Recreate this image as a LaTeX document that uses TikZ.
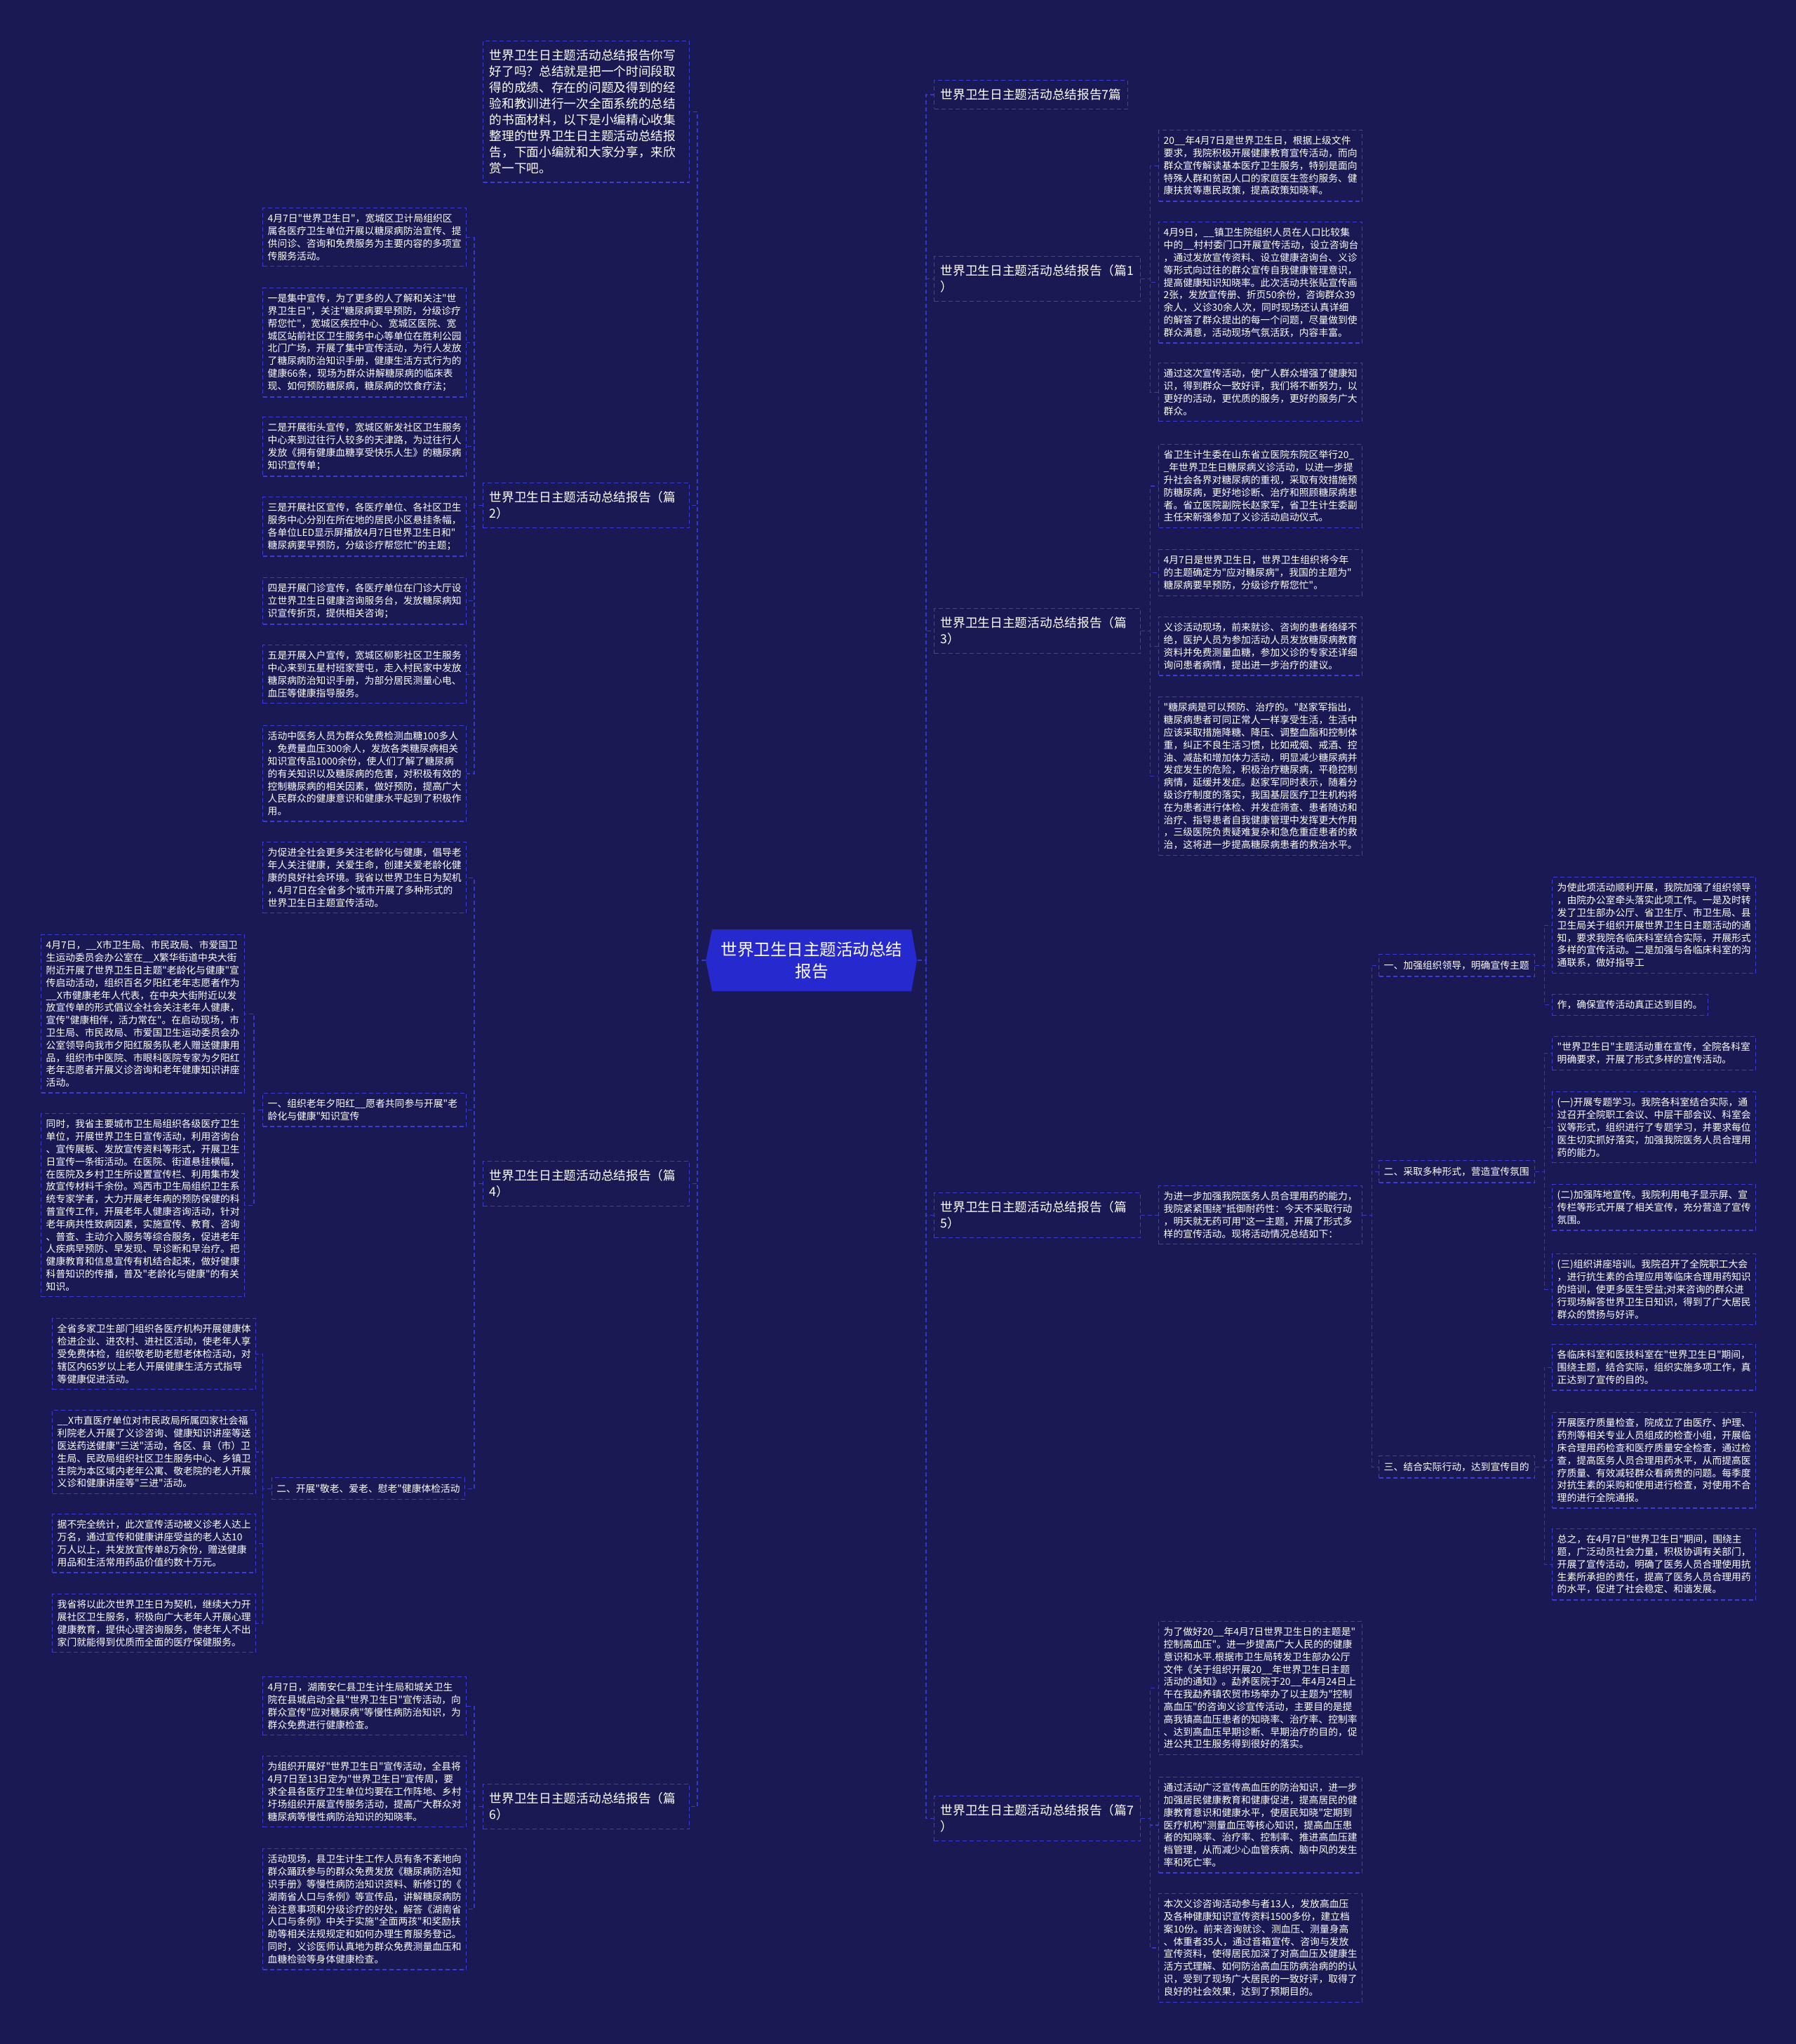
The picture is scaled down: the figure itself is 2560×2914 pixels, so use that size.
\documentclass[tikz,border=0pt]{standalone}
\usepackage{fontspec}
\setmainfont{Noto Sans CJK SC}[Ligatures=TeXOff]
\definecolor{bgc}{RGB}{26,25,84}
\definecolor{bcol}{RGB}{58,62,214}
\definecolor{lcol}{RGB}{52,56,200}
\definecolor{cfill}{RGB}{38,42,206}
\tikzset{
  conn/.style={draw=lcol, line width=0.6pt, dash pattern=on 3pt off 2pt},
  nbox/.style={draw=bcol, line width=0.7pt, dash pattern=on 3pt off 2pt, text=white, align=left, anchor=north west},
  leaf/.style={nbox, font=\fontsize{6.9pt}{8.9pt}\selectfont, text width=138pt, inner xsep=3.5pt, inner ysep=4.2pt},
  subb/.style={nbox, font=\fontsize{6.9pt}{8.9pt}\selectfont, inner xsep=3.5pt, inner ysep=4.5pt},
  branch/.style={nbox, font=\fontsize{8.85pt}{11.5pt}\selectfont, text width=138pt, inner xsep=4.5pt, inner ysep=6pt},
  branchn/.style={nbox, font=\fontsize{8.85pt}{11.5pt}\selectfont, inner xsep=4.5pt, inner ysep=6pt},
}
\begin{document}
\begin{tikzpicture}[x=0.5pt,y=-0.5pt]
\fill[bgc] (0,0) rectangle (2560,2914);
\useasboundingbox (0,0) rectangle (2560,2914);

% center
\fill[cfill] (1015,1325) -- (1299,1325) -- (1307,1369) -- (1299,1413) -- (1015,1413) -- (1006,1369) -- cycle;
\node[text=white, align=center, inner sep=0pt, minimum width=150.5pt, minimum height=44pt,
      font=\fontsize{11.75pt}{15.8pt}\selectfont] (c) at (1157,1369) {世界卫生日主题活动总结\\报告};
\coordinate (lt) at (994,1369);
\coordinate (rt) at (1320,1369);

% ---------------- left side ----------------
\node[branch] (intro) at (688,58) {世界卫生日主题活动总结报告你写\\
好了吗？总结就是把一个时间段取\\
得的成绩、存在的问题及得到的经\\
验和教训进行一次全面系统的总结\\
的书面材料，以下是小编精心收集\\
整理的世界卫生日主题活动总结报\\
告，下面小编就和大家分享，来欣\\
赏一下吧。};

\node[branch] (b2) at (688,688) {世界卫生日主题活动总结报告（篇\\2）};
\node[leaf] (l21) at (374,296) {4月7日"世界卫生日"，宽城区卫计局组织区\\
属各医疗卫生单位开展以糖尿病防治宣传、提\\
供问诊、咨询和免费服务为主要内容的多项宣\\
传服务活动。};
\node[leaf] (l22) at (374,410) {一是集中宣传，为了更多的人了解和关注"世\\
界卫生日"，关注"糖尿病要早预防，分级诊疗\\
帮您忙"，宽城区疾控中心、宽城区医院、宽\\
城区站前社区卫生服务中心等单位在胜利公园\\
北门广场，开展了集中宣传活动，为行人发放\\
了糖尿病防治知识手册，健康生活方式行为的\\
健康66条，现场为群众讲解糖尿病的临床表\\
现、如何预防糖尿病，糖尿病的饮食疗法；};
\node[leaf] (l23) at (374,594) {二是开展街头宣传，宽城区新发社区卫生服务\\
中心来到过往行人较多的天津路，为过往行人\\
发放《拥有健康血糖享受快乐人生》的糖尿病\\
知识宣传单；};
\node[leaf] (l24) at (374,708) {三是开展社区宣传，各医疗单位、各社区卫生\\
服务中心分别在所在地的居民小区悬挂条幅，\\
各单位LED显示屏播放4月7日世界卫生日和"\\
糖尿病要早预防，分级诊疗帮您忙"的主题；};
\node[leaf] (l25) at (374,823) {四是开展门诊宣传，各医疗单位在门诊大厅设\\
立世界卫生日健康咨询服务台，发放糖尿病知\\
识宣传折页，提供相关咨询；};
\node[leaf] (l26) at (374,919) {五是开展入户宣传，宽城区柳影社区卫生服务\\
中心来到五星村班家营屯，走入村民家中发放\\
糖尿病防治知识手册，为部分居民测量心电、\\
血压等健康指导服务。};
\node[leaf] (l27) at (374,1034) {活动中医务人员为群众免费检测血糖100多人\\
，免费量血压300余人，发放各类糖尿病相关\\
知识宣传品1000余份，使人们了解了糖尿病\\
的有关知识以及糖尿病的危害，对积极有效的\\
控制糖尿病的相关因素，做好预防，提高广大\\
人民群众的健康意识和健康水平起到了积极作\\
用。};

\node[branch] (b4) at (688,1655) {世界卫生日主题活动总结报告（篇\\4）};
\node[leaf] (l28) at (374,1200) {为促进全社会更多关注老龄化与健康，倡导老\\
年人关注健康，关爱生命，创建关爱老龄化健\\
康的良好社会环境。我省以世界卫生日为契机\\
，4月7日在全省多个城市开展了多种形式的\\
世界卫生日主题宣传活动。};
\node[leaf] (s41) at (374,1558) {一、组织老年夕阳红\_\_愿者共同参与开展"老\\
龄化与健康"知识宣传};
\node[subb, anchor=north east, text width=130.5pt] (s42) at (663,2106) {二、开展"敬老、爱老、慰老"健康体检活动};
\node[leaf] (a41) at (58,1332) {4月7日，\_\_X市卫生局、市民政局、市爱国卫\\
生运动委员会办公室在\_\_X繁华街道中央大街\\
附近开展了世界卫生日主题"老龄化与健康"宣\\
传启动活动，组织百名夕阳红老年志愿者作为\\
\_\_X市健康老年人代表，在中央大街附近以发\\
放宣传单的形式倡议全社会关注老年人健康，\\
宣传"健康相伴，活力常在"。在启动现场，市\\
卫生局、市民政局、市爱国卫生运动委员会办\\
公室领导向我市夕阳红服务队老人赠送健康用\\
品，组织市中医院、市眼科医院专家为夕阳红\\
老年志愿者开展义诊咨询和老年健康知识讲座\\
活动。};
\node[leaf] (a42) at (58,1587) {同时，我省主要城市卫生局组织各级医疗卫生\\
单位，开展世界卫生日宣传活动，利用咨询台\\
、宣传展板、发放宣传资料等形式，开展卫生\\
日宣传一条街活动。在医院、街道悬挂横幅，\\
在医院及乡村卫生所设置宣传栏、利用集市发\\
放宣传材料千余份。鸡西市卫生局组织卫生系\\
统专家学者，大力开展老年病的预防保健的科\\
普宣传工作，开展老年人健康咨询活动，针对\\
老年病共性致病因素，实施宣传、教育、咨询\\
、普查、主动介入服务等综合服务，促进老年\\
人疾病早预防、早发现、早诊断和早治疗。把\\
健康教育和信息宣传有机结合起来，做好健康\\
科普知识的传播，普及"老龄化与健康"的有关\\
知识。};
\node[leaf] (a43) at (74,1879) {全省多家卫生部门组织各医疗机构开展健康体\\
检进企业、进农村、进社区活动，使老年人享\\
受免费体检，组织敬老助老慰老体检活动，对\\
辖区内65岁以上老人开展健康生活方式指导\\
等健康促进活动。};
\node[leaf] (a44) at (74,2010) {\_\_X市直医疗单位对市民政局所属四家社会福\\
利院老人开展了义诊咨询、健康知识讲座等送\\
医送药送健康"三送"活动，各区、县（市）卫\\
生局、民政局组织社区卫生服务中心、乡镇卫\\
生院为本区域内老年公寓、敬老院的老人开展\\
义诊和健康讲座等"三进"活动。};
\node[leaf] (a45) at (74,2158) {据不完全统计，此次宣传活动被义诊老人达上\\
万名，通过宣传和健康讲座受益的老人达10\\
万人以上，共发放宣传单8万余份，赠送健康\\
用品和生活常用药品价值约数十万元。};
\node[leaf] (a46) at (74,2272) {我省将以此次世界卫生日为契机，继续大力开\\
展社区卫生服务，积极向广大老年人开展心理\\
健康教育，提供心理咨询服务，使老年人不出\\
家门就能得到优质而全面的医疗保健服务。};

\node[branch] (b6) at (688,2543) {世界卫生日主题活动总结报告（篇\\6）};
\node[leaf] (l61) at (374,2390) {4月7日，湖南安仁县卫生计生局和城关卫生\\
院在县城启动全县"世界卫生日"宣传活动，向\\
群众宣传"应对糖尿病"等慢性病防治知识，为\\
群众免费进行健康检查。};
\node[leaf] (l62) at (374,2503) {为组织开展好"世界卫生日"宣传活动，全县将\\
4月7日至13日定为"世界卫生日"宣传周，要\\
求全县各医疗卫生单位均要在工作阵地、乡村\\
圩场组织开展宣传服务活动，提高广大群众对\\
糖尿病等慢性病防治知识的知晓率。};
\node[leaf] (l63) at (374,2635) {活动现场，县卫生计生工作人员有条不紊地向\\
群众踊跃参与的群众免费发放《糖尿病防治知\\
识手册》等慢性病防治知识资料、新修订的《\\
湖南省人口与条例》等宣传品，讲解糖尿病防\\
治注意事项和分级诊疗的好处，解答《湖南省\\
人口与条例》中关于实施"全面两孩"和奖励扶\\
助等相关法规规定和如何办理生育服务登记。\\
同时，义诊医师认真地为群众免费测量血压和\\
血糖检验等身体健康检查。};

% ---------------- right side ----------------
\node[branchn] (r7) at (1331,114) {世界卫生日主题活动总结报告7篇};

\node[branch] (b1) at (1331,365) {世界卫生日主题活动总结报告（篇1\\）};
\node[leaf] (l11) at (1651,185) {20\_\_年4月7日是世界卫生日，根据上级文件\\
要求，我院积极开展健康教育宣传活动，而向\\
群众宣传解读基本医疗卫生服务，特别是面向\\
特殊人群和贫困人口的家庭医生签约服务、健\\
康扶贫等惠民政策，提高政策知晓率。};
\node[leaf] (l12) at (1651,316) {4月9日，\_\_镇卫生院组织人员在人口比较集\\
中的\_\_村村委门口开展宣传活动，设立咨询台\\
，通过发放宣传资料、设立健康咨询台、义诊\\
等形式向过往的群众宣传自我健康管理意识，\\
提高健康知识知晓率。此次活动共张贴宣传画\\
2张，发放宣传册、折页50余份，咨询群众39\\
余人，义诊30余人次，同时现场还认真详细\\
的解答了群众提出的每一个问题，尽量做到使\\
群众满意，活动现场气氛活跃，内容丰富。};
\node[leaf] (l13) at (1651,517) {通过这次宣传活动，使广人群众增强了健康知\\
识，得到群众一致好评，我们将不断努力，以\\
更好的活动，更优质的服务，更好的服务广大\\
群众。};

\node[branch] (b3) at (1331,867) {世界卫生日主题活动总结报告（篇\\3）};
\node[leaf] (l31) at (1651,633) {省卫生计生委在山东省立医院东院区举行20\_\\
\_年世界卫生日糖尿病义诊活动，以进一步提\\
升社会各界对糖尿病的重视，采取有效措施预\\
防糖尿病，更好地诊断、治疗和照顾糖尿病患\\
者。省立医院副院长赵家军，省卫生计生委副\\
主任宋新强参加了义诊活动启动仪式。};
\node[leaf] (l32) at (1651,783) {4月7日是世界卫生日，世界卫生组织将今年\\
的主题确定为"应对糖尿病"，我国的主题为"\\
糖尿病要早预防，分级诊疗帮您忙"。};
\node[leaf] (l33) at (1651,879) {义诊活动现场，前来就诊、咨询的患者络绎不\\
绝，医护人员为参加活动人员发放糖尿病教育\\
资料并免费测量血糖，参加义诊的专家还详细\\
询问患者病情，提出进一步治疗的建议。};
\node[leaf] (l34) at (1651,993) {"糖尿病是可以预防、治疗的。"赵家军指出，\\
糖尿病患者可同正常人一样享受生活，生活中\\
应该采取措施降糖、降压、调整血脂和控制体\\
重，纠正不良生活习惯，比如戒烟、戒酒、控\\
油、减盐和增加体力活动，明显减少糖尿病并\\
发症发生的危险，积极治疗糖尿病，平稳控制\\
病情，延缓并发症。赵家军同时表示，随着分\\
级诊疗制度的落实，我国基层医疗卫生机构将\\
在为患者进行体检、并发症筛查、患者随访和\\
治疗、指导患者自我健康管理中发挥更大作用\\
，三级医院负责疑难复杂和急危重症患者的救\\
治，这将进一步提高糖尿病患者的救治水平。};

\node[branch] (b5) at (1331,1700) {世界卫生日主题活动总结报告（篇\\5）};
\node[leaf] (l5) at (1651,1690) {为进一步加强我院医务人员合理用药的能力，\\
我院紧紧围绕"抵御耐药性：今天不采取行动\\
，明天就无药可用"这一主题，开展了形式多\\
样的宣传活动。现将活动情况总结如下：};
\node[subb, text width=104pt] (s51) at (1965,1360) {一、加强组织领导，明确宣传主题};
\node[subb, text width=104pt] (s52) at (1965,1654) {二、采取多种形式，营造宣传氛围};
\node[subb, text width=104pt] (s53) at (1965,2075) {三、结合实际行动，达到宣传目的};
\node[leaf] (m511) at (2212,1250) {为使此项活动顺利开展，我院加强了组织领导\\
，由院办公室牵头落实此项工作。一是及时转\\
发了卫生部办公厅、省卫生厅、市卫生局、县\\
卫生局关于组织开展世界卫生日主题活动的通\\
知，要求我院各临床科室结合实际，开展形式\\
多样的宣传活动。二是加强与各临床科室的沟\\
通联系，做好指导工};
\node[subb, text width=104pt, inner ysep=4.2pt] (m512) at (2212,1417) {作，确保宣传活动真正达到目的。};
\node[leaf] (m521) at (2212,1477) {"世界卫生日"主题活动重在宣传，全院各科室\\
明确要求，开展了形式多样的宣传活动。};
\node[leaf] (m522) at (2212,1556) {(一)开展专题学习。我院各科室结合实际，通\\
过召开全院职工会议、中层干部会议、科室会\\
议等形式，组织进行了专题学习，并要求每位\\
医生切实抓好落实，加强我院医务人员合理用\\
药的能力。};
\node[leaf] (m523) at (2212,1688) {(二)加强阵地宣传。我院利用电子显示屏、宣\\
传栏等形式开展了相关宣传，充分营造了宣传\\
氛围。};
\node[leaf] (m524) at (2212,1787) {(三)组织讲座培训。我院召开了全院职工大会\\
，进行抗生素的合理应用等临床合理用药知识\\
的培训，使更多医生受益;对来咨询的群众进\\
行现场解答世界卫生日知识，得到了广大居民\\
群众的赞扬与好评。};
\node[leaf] (m531) at (2212,1916) {各临床科室和医技科室在"世界卫生日"期间，\\
围绕主题，结合实际，组织实施多项工作，真\\
正达到了宣传的目的。};
\node[leaf] (m532) at (2212,2013) {开展医疗质量检查，院成立了由医疗、护理、\\
药剂等相关专业人员组成的检查小组，开展临\\
床合理用药检查和医疗质量安全检查，通过检\\
查，提高医务人员合理用药水平，从而提高医\\
疗质量、有效减轻群众看病贵的问题。每季度\\
对抗生素的采购和使用进行检查，对使用不合\\
理的进行全院通报。};
\node[leaf] (m533) at (2212,2179) {总之，在4月7日"世界卫生日"期间，围绕主\\
题，广泛动员社会力量，积极协调有关部门，\\
开展了宣传活动，明确了医务人员合理使用抗\\
生素所承担的责任，提高了医务人员合理用药\\
的水平，促进了社会稳定、和谐发展。};

\node[branch] (b7) at (1331,2560) {世界卫生日主题活动总结报告（篇7\\）};
\node[leaf] (l71) at (1651,2311) {为了做好20\_\_年4月7日世界卫生日的主题是"\\
控制高血压"。进一步提高广大人民的的健康\\
意识和水平.根据市卫生局转发卫生部办公厅\\
文件《关于组织开展20\_\_年世界卫生日主题\\
活动的通知》。勐养医院于20\_\_年4月24日上\\
午在我勐养镇农贸市场举办了以主题为"控制\\
高血压"的咨询义诊宣传活动，主要目的是提\\
高我镇高血压患者的知晓率、治疗率、控制率\\
、达到高血压早期诊断、早期治疗的目的，促\\
进公共卫生服务得到很好的落实。};
\node[leaf] (l72) at (1651,2533) {通过活动广泛宣传高血压的防治知识，进一步\\
加强居民健康教育和健康促进，提高居民的健\\
康教育意识和健康水平，使居民知晓"定期到\\
医疗机构"测量血压等核心知识，提高血压患\\
者的知晓率、治疗率、控制率、推进高血压建\\
档管理，从而减少心血管疾病、脑中风的发生\\
率和死亡率。};
\node[leaf] (l73) at (1651,2699) {本次义诊咨询活动参与者13人，发放高血压\\
及各种健康知识宣传资料1500多份，建立档\\
案10份。前来咨询就诊、测血压、测量身高\\
、体重者35人，通过音箱宣传、咨询与发放\\
宣传资料，使得居民加深了对高血压及健康生\\
活方式理解、如何防治高血压防病治病的的认\\
识，受到了现场广大居民的一致好评，取得了\\
良好的社会效果，达到了预期目的。};

% ---------------- connectors ----------------
\draw[conn] (c.west) -- (lt);
\draw[conn] (c.east) -- (rt);
\foreach \b in {intro,b2,b4,b6} \draw[conn] (lt) |- (\b.east);
\foreach \b in {r7,b1,b3,b5,b7} \draw[conn] (rt) |- (\b.west);
\foreach \p/\q in {b2/l21,b2/l22,b2/l23,b2/l24,b2/l25,b2/l26,b2/l27,
                   b4/l28,b4/s41,b4/s42,s41/a41,s41/a42,
                   s42/a43,s42/a44,s42/a45,s42/a46,
                   b6/l61,b6/l62,b6/l63}
  \draw[conn] (\p.west) -- ++(-6pt,0) |- (\q.east);
\foreach \p/\q in {b1/l11,b1/l12,b1/l13,b3/l31,b3/l32,b3/l33,b3/l34,
                   b5/l5,l5/s51,l5/s52,l5/s53,
                   s51/m511,s51/m512,s52/m521,s52/m522,s52/m523,s52/m524,
                   s53/m531,s53/m532,s53/m533,
                   b7/l71,b7/l72,b7/l73}
  \draw[conn] (\p.east) -- ++(6.5pt,0) |- (\q.west);
\end{tikzpicture}
\end{document}
